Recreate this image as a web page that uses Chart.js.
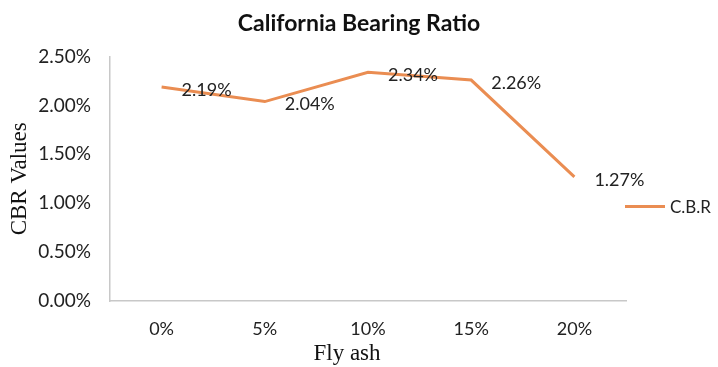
<!DOCTYPE html>
<html>
<head>
<meta charset="utf-8">
<script src="https://cdn.jsdelivr.net/npm/chart.js@4"></script>
<style>
  html, body { margin: 0; padding: 0; background: #fff; }
  #wrap { width: 718px; height: 367px; }
</style>
</head>
<body>
<div id="wrap"><canvas id="cbrChart"></canvas></div>
<script>
// --- Data ---
const flyAsh = ["0%", "5%", "10%", "15%", "20%"];
const cbrValues = [2.19, 2.04, 2.34, 2.26, 1.27];
const seriesName = "C.B.R";
const xTitle = "Fly ash";
const yTicks = [0, 0.5, 1, 1.5, 2, 2.5];

const lineColor = "#EA8D52";
const sansFont = "Lato, 'Open Sans', sans-serif";
const serifFont = "'Liberation Serif', 'DejaVu Serif', serif";

// --- Value labels, x title and legend drawn beside the plot ---
const labelPlugin = {
  id: "cbrLabels",
  afterDatasetsDraw(chart) {
    const ctx = chart.ctx;
    const meta = chart.getDatasetMeta(0);
    const area = chart.chartArea;
    ctx.save();
    ctx.font = "18px " + sansFont;
    ctx.fillStyle = "#222";
    ctx.textAlign = "left";
    ctx.textBaseline = "middle";
    meta.data.forEach((pt, i) => {
      ctx.fillText(cbrValues[i].toFixed(2) + "%", pt.x + 20, pt.y + 3);
    });

    // x axis title (sits a little left of centre in the original)
    ctx.font = "23px " + serifFont;
    ctx.fillStyle = "#111";
    ctx.textAlign = "center";
    ctx.fillText(xTitle, (area.left + area.right) / 2 - 21, chart.height - 13);

    // legend
    const ly = area.top + 150;
    ctx.font = "17px " + sansFont;
    ctx.fillStyle = "#222";
    ctx.textAlign = "left";
    ctx.strokeStyle = lineColor;
    ctx.lineWidth = 3;
    ctx.beginPath();
    ctx.moveTo(area.right - 1, ly);
    ctx.lineTo(area.right + 39, ly);
    ctx.stroke();
    ctx.fillText(seriesName, area.right + 44, ly + 1);
    ctx.restore();
  }
};

const ctx = document.getElementById("cbrChart").getContext("2d");
new Chart(ctx, {
  type: "line",
  data: {
    labels: flyAsh,
    datasets: [{
      label: seriesName,
      data: cbrValues,
      borderColor: lineColor,
      borderWidth: 3,
      pointRadius: 0,
      tension: 0
    }]
  },
  options: {
    responsive: true,
    maintainAspectRatio: false,
    animation: false,
    layout: { padding: 0 },
    plugins: {
      legend: { display: false },
      tooltip: { enabled: false },
      title: {
        display: true,
        text: "California Bearing Ratio",
        color: "#111",
        font: { family: sansFont, size: 23, weight: "bold" },
        padding: { top: 10, bottom: 19 }
      }
    },
    scales: {
      x: {
        offset: true,
        grid: { display: false, drawTicks: false },
        border: { display: true, color: "#c8c8c8", width: 1.5 },
        ticks: { color: "#222", font: { family: sansFont, size: 18 }, padding: 17 },
        afterFit(scale) { scale.height = 66; }
      },
      y: {
        min: 0,
        max: 2.5,
        afterBuildTicks(scale) { scale.ticks = yTicks.map(v => ({ value: v })); },
        grid: { display: false, drawTicks: false },
        border: { display: true, color: "#c8c8c8", width: 1.5 },
        ticks: {
          color: "#222",
          font: { family: sansFont, size: 19 },
          padding: 19,
          callback: v => Number(v).toFixed(2) + "%"
        },
        title: {
          display: true,
          text: "CBR Values",
          color: "#111",
          font: { family: serifFont, size: 23 },
          padding: { top: 6, bottom: 0 }
        },
        afterFit(scale) { scale.width = 110; }
      },
      // empty right-hand axis that reserves room for the legend
      legendSpace: {
        type: "linear",
        position: "right",
        grid: { display: false, drawTicks: false },
        border: { display: false },
        ticks: { display: false },
        afterFit(scale) { scale.width = 92; }
      }
    }
  },
  plugins: [labelPlugin]
});
</script>
</body>
</html>
